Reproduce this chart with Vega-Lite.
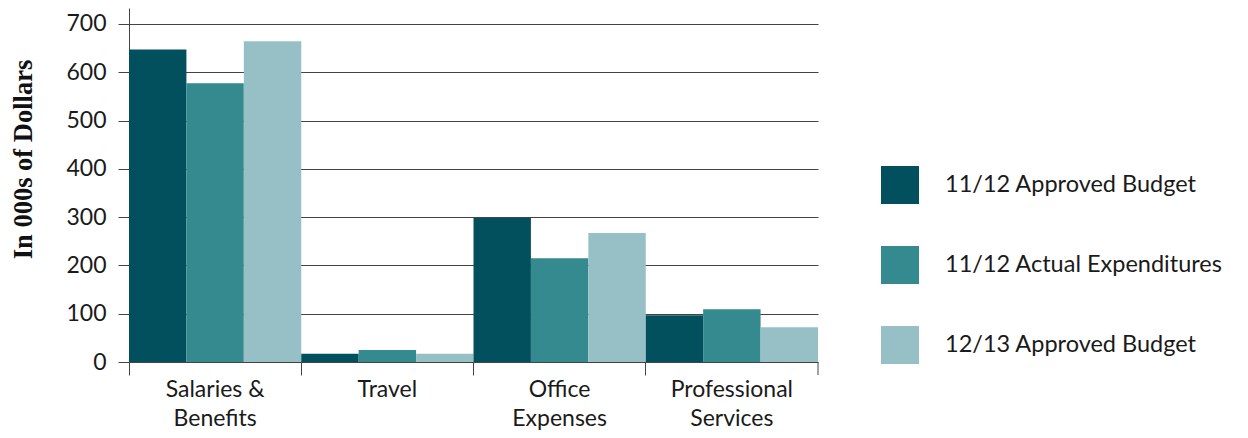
{
  "$schema": "https://vega.github.io/schema/vega-lite/v6.json",
  "width": 689,
  "height": 354,
  "autosize": {"type": "none"},
  "padding": {"left": 129, "top": 8, "right": 430, "bottom": 76},
  "config": {"view": {"stroke": null}, "font": "Lato", "background": "white"},
  "data": {
    "values": [
      {"category": "Salaries & Benefits", "series": "11/12 Approved Budget", "value": 647},
      {"category": "Salaries & Benefits", "series": "11/12 Actual Expenditures", "value": 577},
      {"category": "Salaries & Benefits", "series": "12/13 Approved Budget", "value": 664},
      {"category": "Travel", "series": "11/12 Approved Budget", "value": 17},
      {"category": "Travel", "series": "11/12 Actual Expenditures", "value": 25},
      {"category": "Travel", "series": "12/13 Approved Budget", "value": 17},
      {"category": "Office Expenses", "series": "11/12 Approved Budget", "value": 298},
      {"category": "Office Expenses", "series": "11/12 Actual Expenditures", "value": 215},
      {"category": "Office Expenses", "series": "12/13 Approved Budget", "value": 267},
      {"category": "Professional Services", "series": "11/12 Approved Budget", "value": 97},
      {"category": "Professional Services", "series": "11/12 Actual Expenditures", "value": 109},
      {"category": "Professional Services", "series": "12/13 Approved Budget", "value": 72}
    ]
  },
  "layer": [
    {
      "mark": {"type": "bar", "strokeWidth": 0},
      "encoding": {
        "x": {
          "field": "category",
          "type": "nominal",
          "sort": ["Salaries & Benefits", "Travel", "Office Expenses", "Professional Services"],
          "scale": {"paddingInner": 0, "paddingOuter": 0},
          "axis": {
            "title": null,
            "domain": false,
            "ticks": true,
            "tickSize": 13,
            "tickColor": "#444444",
            "bandPosition": 0,
            "labelAngle": 0,
            "labelFontSize": 23,
            "labelColor": "#1a1a1a",
            "labelPadding": 3,
            "labelLineHeight": 29,
            "labelExpr": "datum.value == 'Salaries & Benefits' ? ['Salaries &', 'Benefits'] : datum.value == 'Office Expenses' ? ['Office', 'Expenses'] : datum.value == 'Professional Services' ? ['Professional', 'Services'] : datum.value"
          }
        },
        "xOffset": {
          "field": "series",
          "sort": ["11/12 Approved Budget", "11/12 Actual Expenditures", "12/13 Approved Budget"],
          "scale": {"paddingInner": 0, "paddingOuter": 0}
        },
        "y": {
          "field": "value",
          "type": "quantitative",
          "scale": {"domain": [0, 733], "nice": false},
          "axis": {
            "values": [0, 100, 200, 300, 400, 500, 600, 700],
            "title": "In 000s of Dollars",
            "titleFont": "Liberation Serif",
            "titleFontSize": 26.5,
            "titleFontWeight": "bold",
            "titleColor": "#111111",
            "titleX": -106,
            "titleY": 151,
            "titleBaseline": "middle",
            "titleAlign": "center",
            "titleAngle": -90,
            "grid": true,
            "gridColor": "#444444",
            "gridWidth": 1,
            "domainColor": "#444444",
            "tickColor": "#444444",
            "tickSize": 11,
            "labelPadding": 12,
            "labelFontSize": 23,
            "labelColor": "#1a1a1a"
          }
        },
        "color": {
          "field": "series",
          "type": "nominal",
          "scale": {
            "domain": ["11/12 Approved Budget", "11/12 Actual Expenditures", "12/13 Approved Budget"],
            "range": ["#02505D", "#348A8E", "#97C0C6"]
          },
          "legend": {
            "title": null,
            "orient": "none",
            "legendX": 752,
            "legendY": 158,
            "symbolType": "square",
            "symbolSize": 1444,
            "symbolStrokeWidth": 0,
            "symbolOpacity": 1,
            "labelFontSize": 23.5,
            "labelColor": "#1a1a1a",
            "labelOffset": 26,
            "rowPadding": 42,
            "labelLimit": 400
          }
        }
      }
    },
    {
      "data": {"values": [{"category": "Professional Services"}]},
      "mark": {"type": "rule", "y2Offset": 13, "color": "#444444", "strokeWidth": 1, "clip": false},
      "encoding": {
        "x": {
          "field": "category",
          "type": "nominal",
          "bandPosition": 1,
          "sort": ["Salaries & Benefits", "Travel", "Office Expenses", "Professional Services"]
        },
        "y": {"datum": 0},
        "y2": {"datum": 0}
      }
    }
  ]
}
